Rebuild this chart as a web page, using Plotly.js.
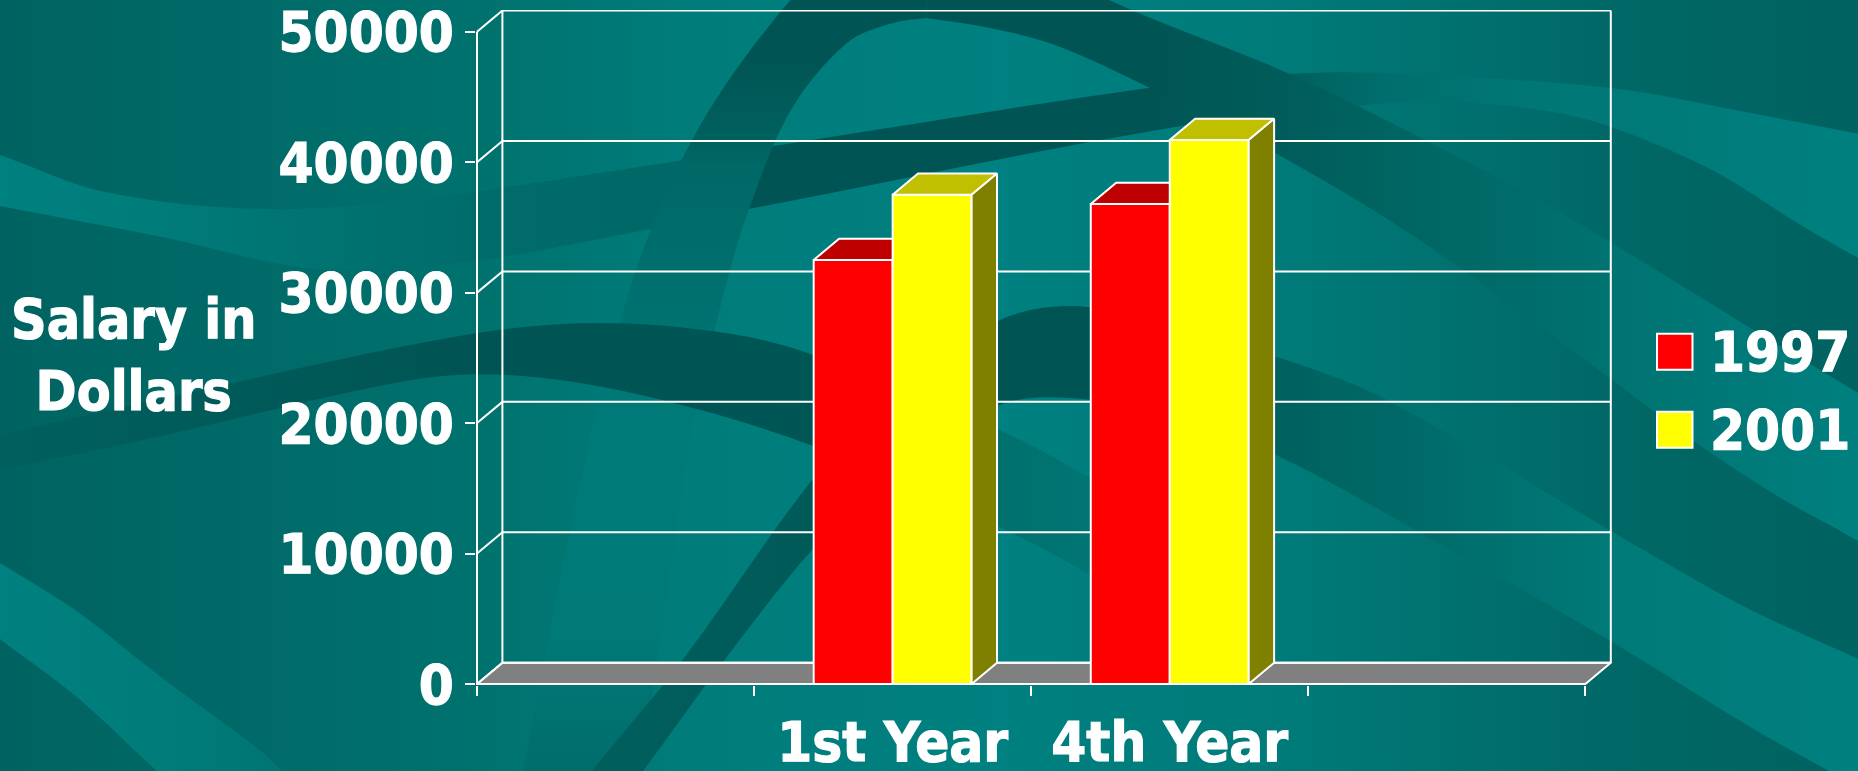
<!DOCTYPE html>
<html>
<head>
<meta charset="utf-8">
<script src="https://cdn.plot.ly/plotly-3.0.1.min.js"></script>
<style>
html,body{margin:0;padding:0;width:1858px;height:771px;overflow:hidden;background:#007573}
#bg{position:absolute;left:0;top:0}
#chart{position:absolute;left:0;top:0;width:1858px;height:771px}
#chart svg text{stroke:#ffffff;stroke-width:1.1px}
</style>
</head>
<body>
<svg id="bg" width="1858" height="771" xmlns="http://www.w3.org/2000/svg"></svg>
<div id="chart"></div>
<script>
// ---------- chart values ----------
var categories = ['1st Year', '4th Year'];
var seriesNames = ['1997', '2001'];
var values1997 = [32500, 36800];
var values2001 = [37500, 41700];
var salaryTicks = [0, 10000, 20000, 30000, 40000, 50000];
var seriesColors = ['#ff0000', '#ffff00'];
var topColors = ['#bf0000', '#c0c000'];
var sideColors = ['#800000', '#808000'];
var axisTitle = 'Salary in<br>Dollars';

// ---------- decorative backdrop ----------
var baseStops = [[0,'#006361'],[250,'#006a68'],[500,'#00736f'],[700,'#007d7b'],[1000,'#008080'],[1280,'#007b79'],[1400,'#007472'],[1612,'#006866'],[1858,'#006261']];
var band1Upper = [[-30,145],[0,155],[105,192],[262,209],[418,199],[684,160],[812,140],[1148,88],[1290,74],[1383,73],[1611,88],[1735,110],[1890,140]];
var band1Lower = [[1890,275],[1858,258],[1799,224],[1712,170],[1611,127],[1547,111],[1438,101],[1356,106],[1169,128],[749,209],[480,260],[324,270],[157,236],[0,206],[-30,200]];
var band1Stops = [[0,'#008080'],[120,'#007e7c'],[300,'#007472'],[480,'#006c6a'],[690,'#006866'],[750,'#005554'],[1150,'#005554'],[1290,'#00605e'],[1383,'#006e6c'],[1500,'#007674'],[1858,'#008080']];
var arcLeftOuter = [[500,860],[523,771],[570,530],[628,295],[692,140],[781,11],[830,-30],[930,-60]];
var arcLeftInner = [[926,18],[893,23],[847,43],[791,110],[749,209],[722,300],[690,443],[660,640],[643,771],[630,860]];
var arcLeftStops = [[0,'#005554'],[60,'#005554'],[130,'#005f5d'],[170,'#006967'],[300,'#00706e'],[430,'#007b79'],[640,'#007977'],[771,'#006d6b']];
var arcRightOuter = [[930,-60],[1020,-50],[1109,0],[1290,74],[1421,138],[1558,211],[1752,329],[1858,393],[1900,420]];
var arcRightInner = [[1900,570],[1858,541],[1779,497],[1692,440],[1611,379],[1421,241],[1279,155],[1150,88],[1055,45],[990,28],[926,18]];
var arcRightStops = [[1150,'#005554'],[1280,'#005c5a'],[1383,'#006461'],[1547,'#006e6c'],[1612,'#007371'],[1858,'#008080']];
var band2Upper = [[-30,442],[0,435],[209,388],[471,334],[601,323],[732,334],[816,356],[1000,430],[1090,478],[1276,585]];
var band2Lower = [[1276,690],[1090,575],[1014,534],[816,447],[654,398],[523,376],[418,379],[157,437],[0,470],[-30,476]];
var band2Stops = [[0,'#00605e'],[450,'#005554'],[820,'#005654'],[990,'#00706e'],[1090,'#007573'],[1276,'#007a78']];
var band3Upper = [[540,840],[592,771],[681,662],[812,480],[900,385],[1000,320],[1070,306],[1150,320],[1274,356],[1383,398],[1611,531],[1745,607],[1858,659],[1900,680]];
var band3Lower = [[1900,810],[1829,771],[1752,728],[1612,642],[1421,533],[1276,455],[1170,415],[1070,398],[1000,405],[900,465],[812,550],[723,662],[643,771],[590,840]];
var band3Stops = [[600,'#005f5d'],[1000,'#005554'],[1100,'#005554'],[1274,'#00615f'],[1383,'#006866'],[1611,'#007a78'],[1858,'#008080']];
var band4Upper = [[-30,545],[0,563],[78,612],[157,674],[262,752],[290,780]];
var band4Lower = [[170,780],[157,771],[78,698],[0,639],[-30,615]];
var band4Stops = [[0,'#008080'],[120,'#007e7c'],[290,'#007573']];

function smooth(pts){
  var d = '';
  function unit(a,b){ var x=b[0]-a[0], y=b[1]-a[1], n=Math.hypot(x,y)||1; return [x/n,y/n]; }
  for (var i = 0; i < pts.length - 1; i++) {
    var p0 = pts[Math.max(i-1,0)], p1 = pts[i], p2 = pts[i+1], p3 = pts[Math.min(i+2,pts.length-1)];
    var len = Math.hypot(p2[0]-p1[0], p2[1]-p1[1])/3;
    var t1 = unit(p0,p2), t2 = unit(p1,p3);
    d += 'C'+(p1[0]+t1[0]*len)+' '+(p1[1]+t1[1]*len)+' '+(p2[0]-t2[0]*len)+' '+(p2[1]-t2[1]*len)+' '+p2[0]+' '+p2[1];
  }
  return d;
}
function bandPath(a,b){
  return 'M'+a[0][0]+' '+a[0][1]+smooth(a)+'L'+b[0][0]+' '+b[0][1]+smooth(b)+'Z';
}
function gradient(id,stops,vertical){
  var span = vertical ? 771 : 1858;
  var s = '<linearGradient id="'+id+'" gradientUnits="userSpaceOnUse" x1="0" y1="0" x2="'+(vertical?0:1858)+'" y2="'+(vertical?771:0)+'">';
  stops.forEach(function(t){ s += '<stop offset="'+(t[0]/span)+'" stop-color="'+t[1]+'"/>'; });
  return s+'</linearGradient>';
}
var svg = '<defs>'+gradient('g0',baseStops)+gradient('g1',band1Stops)+gradient('g2',arcLeftStops,true)+gradient('g3',arcRightStops)+gradient('g4',band2Stops)+gradient('g5',band3Stops)+gradient('g6',band4Stops)+'</defs>';
svg += '<rect width="1858" height="771" fill="url(#g0)"/>';
svg += '<path fill="url(#g1)" d="'+bandPath(band1Upper,band1Lower)+'"/>';
svg += '<path fill="url(#g3)" d="'+bandPath(arcRightOuter,arcRightInner)+'"/>';
svg += '<path fill="url(#g2)" d="'+bandPath(arcLeftOuter,arcLeftInner)+'"/>';
svg += '<path fill="url(#g4)" d="'+bandPath(band2Upper,band2Lower)+'"/>';
svg += '<path fill="url(#g5)" d="'+bandPath(band3Upper,band3Lower)+'"/>';
svg += '<path fill="url(#g6)" d="'+bandPath(band4Upper,band4Lower)+'"/>';
document.getElementById('bg').innerHTML = svg;

// ---------- plot geometry ----------
var W = 1858, H = 771;
var pxX0 = 477, pxY0 = 683.7, pxPerCat = 277.1, pxPer10k = 130.4, pad = 1;
var depthPxX = 25.4, depthPxY = 21.2;
var dx = depthPxX / pxPerCat, dy = depthPxY / pxPer10k * 10000;
var nCat = 4;                       // two empty category slots flank the data
var gapFrac = 0.43;
var marginL = pxX0 - pad, marginB = H - pxY0 - pad, marginT = 10, marginR = W - 1612;
var xRange = [-pad/pxPerCat, (W - marginR - pxX0)/pxPerCat];
var yRange = [-pad/pxPer10k*10000, (pxY0 - marginT)/pxPer10k*10000];
var plotW = W - marginL - marginR, plotH = H - marginT - marginB;
function paperX(px){ return (px - marginL)/plotW; }
function paperY(py){ return 1 - (py - marginT)/plotH; }

var white = '#ffffff', fontFamily = '"DejaVu Sans Condensed","DejaVu Sans",sans-serif';
var textFont = {family:fontFamily, size:56, color:white, weight:700};
var titleFont = {family:fontFamily, size:55, color:white, weight:700};
var catPos = categories.map(function(c,i){ return 1.5 + i; });
var barW = (1 - gapFrac)/2;
var series = [values1997, values2001];

var traces = [];
series.forEach(function(vals,s){
  traces.push({type:'bar', name:seriesNames[s], x:catPos, y:vals, marker:{color:seriesColors[s], line:{color:white,width:2}}, hoverinfo:'x+y', showlegend:false});
});
function poly(xs,ys,color){
  traces.push({type:'scatter', mode:'lines', x:xs, y:ys, fill:'toself', fillcolor:color, line:{color:white,width:2}, hoverinfo:'skip', showlegend:false});
}
catPos.forEach(function(c,i){
  var l0 = c - barW, m = c, r1 = c + barW, v0 = values1997[i], v1 = values2001[i];
  poly([l0, l0+dx, m, m, l0], [v0, v0+dy, v0+dy, v0, v0], topColors[0]);
  poly([m, m+dx, r1+dx, r1, m], [v1, v1+dy, v1+dy, v1, v1], topColors[1]);
  poly([r1, r1+dx, r1+dx, r1, r1], [0, dy, v1+dy, v1, 0], sideColors[1]);
});

function seg(x0,y0,x1,y1){ return {type:'line', layer:'below', xref:'x', yref:'y', x0:x0, y0:y0, x1:x1, y1:y1, line:{color:white,width:2}}; }
var shapes = [];
shapes.push({type:'path', layer:'below', xref:'x', yref:'y',
  path:'M0,0L'+dx+','+dy+'L'+(nCat+dx)+','+dy+'L'+nCat+',0Z', fillcolor:'#808080', line:{color:white,width:2}});
salaryTicks.forEach(function(t){
  shapes.push(seg(dx, t+dy, nCat+dx, t+dy));
  shapes.push(seg(0, t, dx, t+dy));
});
shapes.push(seg(0, 0, 0, salaryTicks[salaryTicks.length-1]));
shapes.push(seg(dx, dy, dx, salaryTicks[salaryTicks.length-1]+dy));
shapes.push(seg(nCat+dx, dy, nCat+dx, salaryTicks[salaryTicks.length-1]+dy));
shapes.push(seg(0, 0, nCat, 0));

// legend swatches and labels
var legendRows = [351.5, 429.5];
var annotations = [{
  xref:'paper', yref:'paper', x:paperX(133), y:paperY(355), xanchor:'center', yanchor:'middle', align:'center',
  text:axisTitle, showarrow:false, font:titleFont
}];
seriesNames.forEach(function(n,i){
  shapes.push({type:'rect', xref:'paper', yref:'paper', layer:'above',
    x0:paperX(1657), x1:paperX(1692.5), y0:paperY(legendRows[i]-18), y1:paperY(legendRows[i]+18),
    fillcolor:seriesColors[i], line:{color:white,width:2}});
  annotations.push({xref:'paper', yref:'paper', x:paperX(1708), y:paperY(legendRows[i]), xanchor:'left', yanchor:'middle', text:n, showarrow:false, font:textFont});
});

var layout = {
  width:W, height:H, autosize:false,
  paper_bgcolor:'rgba(0,0,0,0)', plot_bgcolor:'rgba(0,0,0,0)',
  margin:{l:marginL, r:marginR, t:marginT, b:marginB, pad:0},
  barmode:'group', bargap:gapFrac, bargroupgap:0, showlegend:false,
  xaxis:{range:xRange, showgrid:false, zeroline:false, showline:false, ticks:'',
    tickmode:'array', tickvals:catPos, ticktext:categories, tickfont:textFont, ticklabelstandoff:19, ticklabeloverflow:'allow',
    minor:{ticks:'outside', ticklen:10, tickwidth:2, tickcolor:white, tickmode:'array', tickvals:[0,1,2,3,4], showgrid:false}},
  yaxis:{range:yRange, showgrid:false, zeroline:false, showline:false, ticks:'outside', ticklen:10, tickwidth:2, tickcolor:white,
    tickmode:'array', tickvals:salaryTicks, ticktext:salaryTicks.map(String), tickfont:textFont, ticklabelstandoff:0, ticklabeloverflow:'allow'},
  shapes:shapes, annotations:annotations
};
Plotly.newPlot('chart', traces, layout, {displayModeBar:false, staticPlot:true});
</script>
</body>
</html>
